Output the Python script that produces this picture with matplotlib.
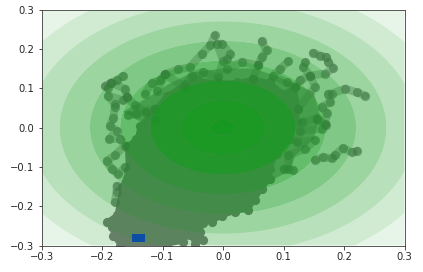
import numpy as np
import matplotlib
matplotlib.use("Agg")
import matplotlib.pyplot as plt
from matplotlib.patches import Polygon, Rectangle

levels = [0.0, 0.02, 0.07, 0.12, 0.17, 0.22, 0.27, 0.32, 0.37, 0.6]
band_alpha = [0.97, 0.92, 0.86, 0.66, 0.54, 0.42, 0.30, 0.20, 0.10]

# Visible trajectories, one x list and one y list per chain of points
chain01_x = [-.195,-.185,-.176,-.165]
chain01_y = [.105,.114,.120,.131]
chain02_x = [-.190,-.185,-.162,-.159,-.165,-.190,-.179,-.179,-.181,-.187,-.176,-.188,-.170,-.162,-.179,-.192,-.184,-.173,-.162]
chain02_y = [.100,.114,.098,.077,.069,.081,.060,.052,.024,.005,-.008,-.029,-.029,-.046,-.071,-.084,-.105,-.118,-.101]
chain03_x = [-.159,-.145,-.128,-.112]
chain03_y = [.077,.056,.040,.020]
chain04_x = [-.129,-.117,-.104,-.096,-.074,-.055,-.035,-.021,-.014]
chain04_y = [.086,.114,.120,.135,.148,.153,.187,.209,.234]
chain05_x = [-.157,-.143,-.112]
chain05_y = [.031,.035,.048]
chain06_x = [-.109,-.096,-.063,-.052,-.033,-.008,.0005,-.010,-.002,.012,.006,.006,.031,.058,.050]
chain06_y = [.094,.135,.103,.132,.141,.128,.170,.213,.213,.187,.175,.149,.166,.158,.124]
chain07_x = [.064,.072,.064,.058]
chain07_y = [.219,.196,.179,.158]
chain08_x = [.149,.160,.171,.174,.182,.169,.144,.133,.136]
chain08_y = [.190,.183,.179,.166,.151,.137,.132,.153,.166]
chain09_x = [.108,.094,.083,.105,.119,.127,.144,.152,.124]
chain09_y = [.168,.149,.132,.115,.103,.120,.132,.103,.048]
chain10_x = [.235,.221,.202,.180,.174,.177,.163,.172,.169,.155,.131]
chain10_y = [.081,.089,.099,.086,.086,.064,.052,.036,.010,.023,.013]
chain11_x = [.222,.213,.198,.185,.180,.165,.152]
chain11_y = [-.059,-.063,-.053,-.070,-.078,-.076,-.082]
chain12_x = [.155,.171,.163,.127,.122,.152,.136,.108,.108,.116,.100]
chain12_y = [.020,.007,-.003,-.008,-.037,-.033,-.054,-.071,-.105,-.109,-.105]
chain13_x = [-.176,-.176,-.179]
chain13_y = [-.148,-.165,-.190]

# Outline of the dense, fully overlapped mass of points
blob_x = [-.137,-.112,-.093,-.063,-.041,-.008,.023,.050,.078,.100,.119,.124,.122,.111,.089,.078,.078,.064,
          .053,.042,.020,-.002,-.018,-.033,-.038,-.033,-.046,-.055,-.066,-.093,-.170,-.181,-.184,-.192,-.176,
          -.167,-.157,-.159,-.143]
blob_y = [.005,.048,.081,.111,.120,.115,.115,.124,.115,.086,.103,.048,.014,-.029,-.067,-.105,-.131,-.156,
          -.184,-.209,-.214,-.226,-.239,-.243,-.265,-.286,-.296,-.273,-.290,-.298,-.300,-.277,-.252,-.239,-.222,
          -.150,-.109,-.046,-.029]

# Outline of the partly covered fringe around the dense mass
fringe_x = [-.165,-.120,-.090,-.050,.000,.050,.090,.120,.150,.160,.150,.120,.110,.080,.060]
fringe_y = [.040,.080,.110,.140,.150,.150,.130,.110,.090,.030,-.030,-.070,-.110,-.135,-.160]

# Blue marker
marker_x, marker_y, marker_w, marker_h = -.150, -.290, .021, .020

ticks = [-0.3, -0.2, -0.1, 0.0, 0.1, 0.2, 0.3]
tick_labels = ["\u22120.3", "\u22120.2", "\u22120.1", "0.0", "0.1", "0.2", "0.3"]

chains = [(chain01_x, chain01_y), (chain02_x, chain02_y), (chain03_x, chain03_y), (chain04_x, chain04_y),
          (chain05_x, chain05_y), (chain06_x, chain06_y), (chain07_x, chain07_y), (chain08_x, chain08_y),
          (chain09_x, chain09_y), (chain10_x, chain10_y), (chain11_x, chain11_y), (chain12_x, chain12_y),
          (chain13_x, chain13_y)]

DOT = "#6c6c6c"
W, H, DPI = 423, 272, 72
fig = plt.figure(figsize=(W / DPI, H / DPI), dpi=DPI)
ax = fig.add_axes([41.5 / W, 1 - 245.5 / H, 363 / W, 236 / H])

ax.add_patch(Polygon(np.column_stack([fringe_x, fringe_y]), closed=True, fc=DOT, ec="none", alpha=0.6, zorder=1))
ax.add_patch(Polygon(np.column_stack([blob_x, blob_y]), closed=True, fc="#7a7a7a", ec="#7a7a7a", lw=4,
                     zorder=1.5, joinstyle="round"))
ax.scatter(blob_x, blob_y, s=85, color="#7a7a7a", linewidths=0, zorder=1.5)
for cx, cy in chains:
    ax.plot(cx, cy, color=DOT, lw=8, alpha=0.4, solid_capstyle="round", solid_joinstyle="round", zorder=1.8)
    ax.scatter(cx, cy, s=85, color="#5a5a5a", alpha=0.55, linewidths=0, zorder=2)

grid = np.linspace(-0.3, 0.3, 601)
X, Y = np.meshgrid(grid, grid)
R = np.hypot(X, Y)
colors = [(20 / 255, 155 / 255, 30 / 255, a) for a in band_alpha]
ax.contourf(X, Y, R, levels=levels, colors=colors, zorder=3, antialiased=True)

ax.add_patch(Rectangle((marker_x, marker_y), marker_w, marker_h, fc="#0b4ea6", ec="none", zorder=4))

ax.set_xlim(-0.3, 0.3)
ax.set_ylim(-0.3, 0.3)
ax.set_xticks(ticks)
ax.set_yticks(ticks)
ax.set_xticklabels(tick_labels)
ax.set_yticklabels(tick_labels)
ax.tick_params(labelsize=10, length=3.5, width=0.8, colors="#262626", pad=3.5)
for s in ax.spines.values():
    s.set_linewidth(0.8)
    s.set_color("#333333")
    s.set_zorder(5)

fig.savefig("out.png", dpi=DPI)
